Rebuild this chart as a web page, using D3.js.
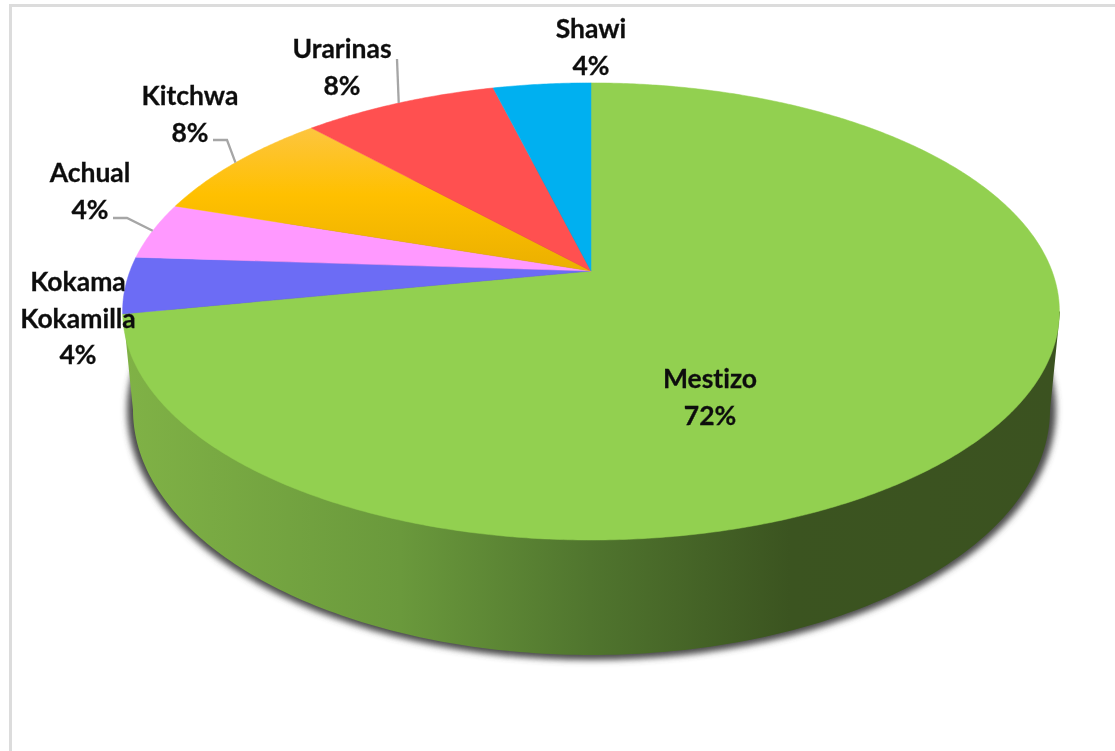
<!DOCTYPE html>
<html>
<head>
<meta charset="utf-8">
<script src="https://cdn.jsdelivr.net/npm/d3@7"></script>
<style>
html,body{margin:0;padding:0;background:#fff;overflow:hidden}
svg{display:block}
text{font-family:Lato,Carlito,"Open Sans",sans-serif;font-weight:700;font-size:26.5px;fill:#111;stroke:#111;stroke-width:0.3px;text-anchor:middle;font-variant-ligatures:none}
</style>
</head>
<body>
<div id="chart"></div>
<script>
// Data
const categories = ["Mestizo", "Kokama Kokamilla", "Achual", "Kitchwa", "Urarinas", "Shawi"];
const shares = [72, 4, 4, 8, 8, 4];
const sliceColors = ["#92D050", "#6C6CF5", "#FF99FF", "url(#orangeGrad)", "#FF5050", "#00B0F0"];

// Layout of the label blocks (centre x, first baseline y)
const labelLines = [["Mestizo"], ["Kokama", "Kokamilla"], ["Achual"], ["Kitchwa"], ["Urarinas"], ["Shawi"]];
const labelX = [710, 78, 90, 190, 342, 591];
const labelY = [388, 291, 182, 105, 58, 38];
const lineStep = 36.5;
// Leader line start and elbow, null if the label has none
const leaderStart = [null, null, [113, 218], [213, 140], [397, 59], null];
const leaderElbow = [null, null, [127, 218], [227, 140], [397, 59], null];

const W = 1115, H = 751;
const apexX = 591, apexY = 271, radX = 461, radY = 221.4, persp = 0.177;
// Perspective projection of the unit pie disc
const project = a => {
  const u = Math.sin(a), v = Math.cos(a), w = 1 + persp * v;
  return [apexX + radX * u / w, apexY - radY * v / w];
};
const rimTop = {cx: 591.5, cy: 311.5, rx: 468.5, ry: 228.5};
const rimBottom = {cx: 591.5, cy: 410, rx: 458.5, ry: 245};

const svg = d3.select("#chart").append("svg").attr("width", W).attr("height", H);
const defs = svg.append("defs");

const wallStops = [[123, "#80B246"], [400, "#6A993C"], [590, "#50752E"], [790, "#3B5420"], [1060, "#3B5220"]];
const wallX = d3.scaleLinear().domain([123, 1060]).range([0, 100]);
defs.append("linearGradient").attr("id", "wallGrad")
  .attr("gradientUnits", "userSpaceOnUse").attr("x1", 123).attr("x2", 1060).attr("y1", 0).attr("y2", 0)
  .selectAll("stop").data(wallStops).join("stop")
  .attr("offset", d => wallX(d[0]) + "%").attr("stop-color", d => d[1]);

defs.append("linearGradient").attr("id", "orangeGrad")
  .attr("gradientUnits", "userSpaceOnUse").attr("x1", 0).attr("x2", 0).attr("y1", 128).attr("y2", 270)
  .selectAll("stop").data([[0, "#FDC53F"], [0.47, "#FFC000"], [1, "#EBB000"]]).join("stop")
  .attr("offset", d => d[0]).attr("stop-color", d => d[1]);

defs.append("filter").attr("id", "shadowBlur").attr("x", "-5%").attr("y", "-5%").attr("width", "110%").attr("height", "110%")
  .append("feGaussianBlur").attr("stdDeviation", 3);
defs.append("filter").attr("id", "textSoft").attr("x", "-5%").attr("y", "-5%").attr("width", "110%").attr("height", "110%")
  .append("feGaussianBlur").attr("stdDeviation", 0.4);

// Frame
const frame = d3.path();
frame.moveTo(10.5, H); frame.lineTo(10.5, 5.5); frame.lineTo(W, 5.5);
svg.append("path").attr("d", frame.toString()).attr("fill", "none").attr("stroke", "#DCDCDC").attr("stroke-width", 3);

// Shadow below the wall
svg.append("ellipse")
  .attr("cx", rimBottom.cx).attr("cy", rimBottom.cy)
  .attr("rx", rimBottom.rx + 6).attr("ry", rimBottom.ry + 5)
  .attr("fill", "#4c4c4c").attr("filter", "url(#shadowBlur)");

// Wall of the Mestizo slice
const line = d3.line();
const steps = d3.range(0, 181).map(d => d / 180 * Math.PI);
const lowerRim = steps.map(t => [rimBottom.cx + rimBottom.rx * Math.cos(t), rimBottom.cy + rimBottom.ry * Math.sin(t)]);
svg.append("path")
  .attr("d", line([[rimTop.cx + rimTop.rx, rimTop.cy], ...lowerRim, [rimTop.cx - rimTop.rx, rimTop.cy]]) + "Z")
  .attr("fill", "url(#wallGrad)");

// Top face, from d3.pie
const arcs = d3.pie().sort(null).value(d => d).startAngle(0).endAngle(2 * Math.PI)(shares);
const slicePath = d => {
  const n = Math.max(8, Math.ceil((d.endAngle - d.startAngle) * 120));
  const pts = d3.range(n + 1).map(i => project(d.startAngle + (d.endAngle - d.startAngle) * i / n));
  return line([[apexX, apexY], ...pts]) + "Z";
};
svg.append("g").selectAll("path").data(arcs).join("path")
  .attr("d", slicePath)
  .attr("fill", (d, i) => sliceColors[i])
  .attr("stroke", (d, i) => sliceColors[i]).attr("stroke-width", 0.5);

// Leader lines
svg.append("g").selectAll("path")
  .data(arcs.filter((d, i) => leaderStart[i]))
  .join("path")
  .attr("d", d => line([leaderStart[d.index], leaderElbow[d.index], project((d.startAngle + d.endAngle) / 2)]))
  .attr("fill", "none").attr("stroke", "#A6A6A6").attr("stroke-width", 2.3);

// Labels
const labels = svg.append("g").attr("filter", "url(#textSoft)");
categories.forEach((c, i) => {
  const rows = [...labelLines[i], shares[i] + "%"];
  rows.forEach((r, j) => {
    labels.append("text").attr("x", labelX[i]).attr("y", labelY[i] + j * lineStep).text(r);
  });
});
</script>
</body>
</html>
